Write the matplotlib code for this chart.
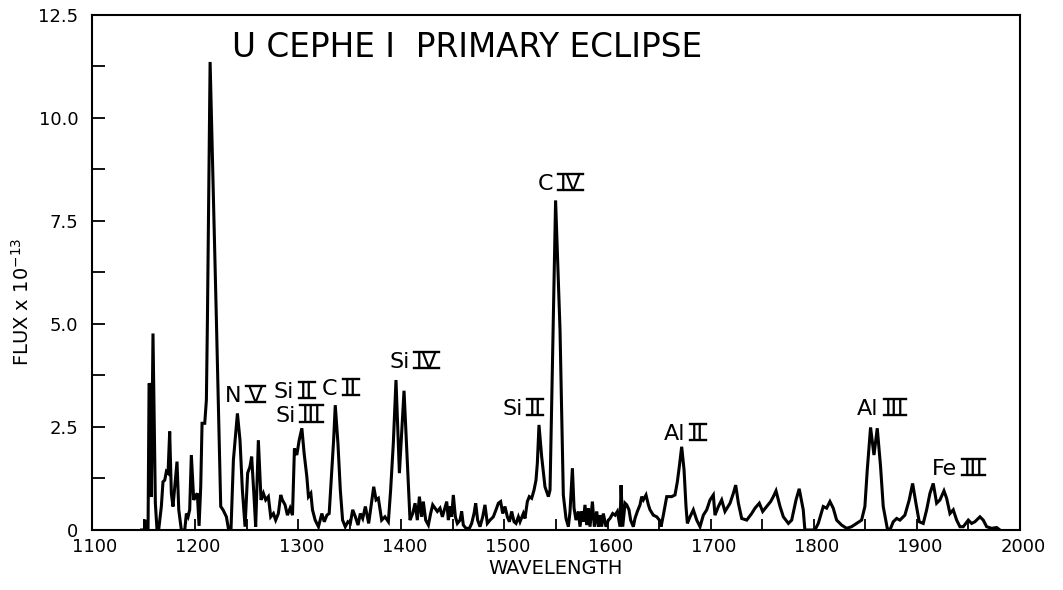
import matplotlib
matplotlib.use("Agg")
import matplotlib.pyplot as plt
from matplotlib.ticker import MultipleLocator
from matplotlib.transforms import ScaledTranslation, IdentityTransform
from matplotlib.lines import Line2D

# ---- data (wavelength in Angstrom, flux in 1e-13 units)
wavelength = [
    1148.0, 1150.8, 1151.1, 1151.4, 1154.3, 1155.3, 1156.6, 1157.5, 1159.1, 1161.4,
    1163.0, 1164.6, 1167.2, 1168.8, 1170.5, 1172.1, 1173.7, 1175.3, 1176.9, 1178.5,
    1180.2, 1182.4, 1184.1, 1186.6, 1189.9, 1191.5, 1193.1, 1194.7, 1196.3, 1198.6,
    1200.2, 1202.1, 1203.8, 1205.4, 1206.7, 1209.3, 1210.9, 1211.9, 1214.5, 1220.6,
    1224.8, 1227.0, 1230.3, 1232.5, 1234.8, 1237.1, 1241.0, 1243.5, 1245.8, 1248.4,
    1250.9, 1253.2, 1254.8, 1257.1, 1258.7, 1261.3, 1263.9, 1266.2, 1268.4, 1271.0,
    1273.3, 1275.9, 1278.1, 1280.7, 1283.0, 1284.6, 1287.2, 1289.5, 1292.1, 1294.4,
    1296.3, 1298.6, 1300.9, 1303.5, 1305.7, 1308.3, 1309.9, 1312.2, 1313.8, 1316.4,
    1319.6, 1322.9, 1325.2, 1327.8, 1330.0, 1332.0, 1334.3, 1335.9, 1338.5, 1340.8,
    1343.0, 1345.6, 1348.2, 1350.5, 1352.8, 1355.4, 1358.0, 1360.2, 1362.5, 1365.1,
    1368.3, 1370.6, 1373.2, 1375.5, 1377.7, 1380.9, 1384.1, 1387.4, 1389.6, 1392.2,
    1394.8, 1398.1, 1402.6, 1405.8, 1408.4, 1411.0, 1413.3, 1415.5, 1417.5, 1419.7,
    1421.3, 1423.6, 1426.2, 1428.4, 1430.4, 1432.6, 1434.9, 1437.5, 1439.8, 1441.7,
    1444.0, 1445.6, 1447.2, 1448.8, 1450.4, 1452.4, 1454.3, 1456.9, 1458.5, 1460.1,
    1462.7, 1466.0, 1468.2, 1470.5, 1472.1, 1474.0, 1476.3, 1478.9, 1481.1, 1483.4,
    1486.0, 1489.2, 1491.8, 1494.1, 1496.3, 1498.3, 1500.5, 1502.8, 1504.8, 1507.0,
    1509.3, 1511.2, 1513.5, 1515.1, 1518.3, 1519.9, 1522.2, 1524.1, 1526.4, 1528.7,
    1530.6, 1531.9, 1533.5, 1536.1, 1539.3, 1542.6, 1544.2, 1549.6, 1553.9, 1557.1,
    1559.7, 1562.0, 1563.6, 1565.9, 1567.5, 1569.4, 1571.7, 1573.3, 1574.9, 1576.5,
    1578.1, 1579.8, 1581.4, 1583.0, 1585.3, 1587.2, 1589.5, 1591.1, 1592.7, 1594.3,
    1595.9, 1598.5, 1600.8, 1602.4, 1605.0, 1607.3, 1609.5, 1612.1, 1613.1, 1614.7,
    1617.0, 1618.6, 1620.8, 1622.4, 1625.0, 1626.6, 1628.9, 1631.5, 1633.1, 1634.7,
    1637.3, 1639.6, 1641.2, 1644.4, 1647.7, 1650.3, 1651.9, 1654.1, 1657.4, 1662.2,
    1665.4, 1667.7, 1669.6, 1671.9, 1674.2, 1676.1, 1677.4, 1680.0, 1683.2, 1686.5,
    1689.7, 1692.9, 1696.2, 1699.4, 1702.6, 1704.2, 1707.5, 1710.7, 1713.9, 1718.8,
    1722.0, 1724.3, 1726.9, 1730.1, 1735.0, 1739.8, 1743.0, 1747.2, 1750.5, 1754.4,
    1758.2, 1760.8, 1763.4, 1767.3, 1770.5, 1775.4, 1778.6, 1782.8, 1785.9, 1789.8,
    1791.4, 1801.1, 1804.4, 1809.2, 1812.5, 1815.7, 1818.9, 1822.2, 1827.0, 1831.9,
    1836.7, 1841.6, 1846.4, 1849.6, 1851.9, 1855.1, 1858.4, 1861.6, 1864.8, 1867.4,
    1871.3, 1873.9, 1877.1, 1880.4, 1883.6, 1888.4, 1892.6, 1895.9, 1899.1, 1902.3,
    1906.2, 1909.5, 1912.7, 1915.9, 1919.2, 1922.4, 1926.3, 1928.9, 1932.1, 1935.3,
    1938.6, 1941.8, 1945.0, 1949.9, 1953.1, 1956.3, 1961.2, 1964.4, 1967.7, 1972.5,
    1977.4, 1980.6,
]
flux = [
    0.0, 0.0, 0.25, 0.0, 0.0, 3.56, 3.48, 0.8, 4.77, 0.65,
    0.0, 0.0, 0.57, 1.17, 1.21, 1.42, 1.38, 2.39, 0.89, 0.57,
    1.05, 1.66, 0.49, 0.0, 0.0, 0.40, 0.32, 0.49, 1.82, 0.73,
    0.81, 0.89, 0.10, 1.05, 2.59, 2.59, 3.16, 5.10, 11.36, 5.10,
    0.57, 0.49, 0.32, 0.0, 0.04, 1.70, 2.83, 2.18, 0.97, 0.08,
    1.38, 1.54, 1.78, 0.81, 0.08, 2.18, 0.73, 0.89, 0.73, 0.81,
    0.32, 0.40, 0.24, 0.40, 0.85, 0.73, 0.61, 0.36, 0.53, 0.36,
    1.98, 1.82, 2.18, 2.47, 1.86, 1.30, 0.81, 0.89, 0.49, 0.24,
    0.08, 0.40, 0.20, 0.36, 0.40, 1.21, 2.18, 3.03, 2.10, 0.97,
    0.24, 0.08, 0.20, 0.16, 0.49, 0.32, 0.12, 0.40, 0.28, 0.57,
    0.16, 0.57, 1.05, 0.73, 0.77, 0.24, 0.32, 0.20, 0.97, 2.10,
    3.64, 1.38, 3.38, 1.62, 0.24, 0.40, 0.65, 0.24, 0.81, 0.32,
    0.69, 0.24, 0.12, 0.40, 0.61, 0.53, 0.45, 0.53, 0.32, 0.49,
    0.69, 0.24, 0.57, 0.32, 0.85, 0.32, 0.16, 0.24, 0.45, 0.12,
    0.04, 0.04, 0.16, 0.40, 0.65, 0.24, 0.08, 0.32, 0.61, 0.16,
    0.24, 0.32, 0.49, 0.65, 0.69, 0.40, 0.57, 0.32, 0.20, 0.45,
    0.20, 0.16, 0.32, 0.20, 0.40, 0.28, 0.69, 0.81, 0.77, 0.97,
    1.21, 1.62, 2.55, 1.78, 1.05, 0.81, 0.97, 8.00, 4.85, 0.85,
    0.28, 0.08, 0.45, 1.50, 0.53, 0.24, 0.45, 0.08, 0.45, 0.20,
    0.61, 0.12, 0.53, 0.08, 0.69, 0.08, 0.45, 0.08, 0.36, 0.08,
    0.40, 0.08, 0.24, 0.28, 0.40, 0.36, 0.45, 0.08, 1.09, 0.08,
    0.65, 0.61, 0.49, 0.24, 0.08, 0.28, 0.45, 0.61, 0.81, 0.73,
    0.85, 0.61, 0.49, 0.36, 0.32, 0.24, 0.08, 0.36, 0.81, 0.81,
    0.85, 1.17, 1.54, 2.02, 1.46, 0.57, 0.16, 0.32, 0.49, 0.24,
    0.08, 0.36, 0.49, 0.73, 0.85, 0.36, 0.57, 0.73, 0.45, 0.65,
    0.89, 1.09, 0.65, 0.28, 0.24, 0.40, 0.53, 0.65, 0.45, 0.57,
    0.69, 0.81, 0.95, 0.57, 0.32, 0.16, 0.24, 0.73, 1.00, 0.49,
    0.0, 0.0, 0.16, 0.57, 0.53, 0.69, 0.53, 0.24, 0.12, 0.04,
    0.08, 0.16, 0.24, 0.57, 1.46, 2.49, 1.82, 2.47, 1.54, 0.57,
    0.04, 0.0, 0.20, 0.28, 0.24, 0.36, 0.73, 1.13, 0.65, 0.20,
    0.16, 0.49, 0.89, 1.13, 0.65, 0.73, 0.95, 0.77, 0.40, 0.49,
    0.24, 0.08, 0.08, 0.24, 0.16, 0.20, 0.32, 0.24, 0.08, 0.04,
    0.06, 0.0,
]

# ion labels: element symbol + ionisation stage (roman numeral)
label_elements = ["N", "Si", "Si", "C", "Si", "C", "Si", "Al", "Al", "Fe"]
label_stages = ["V", "II", "III", "II", "IV", "IV", "II", "II", "III", "III"]
label_x = [1247.4, 1295.2, 1300.0, 1340.2, 1411.6, 1553.4, 1517.0, 1674.0, 1865.2, 1939.8]
label_y = [3.11, 3.20, 2.63, 3.27, 3.92, 8.25, 2.79, 2.18, 2.78, 1.33]

x_ticks = [1100, 1200, 1300, 1400, 1500, 1600, 1700, 1800, 1900, 2000]
y_ticks = [0, 2.5, 5.0, 7.5, 10.0, 12.5]
y_tick_labels = ["0", "2.5", "5.0", "7.5", "10.0", "12.5"]

title_text = "U CEPHE I  PRIMARY ECLIPSE"

DPI = 100
fig = plt.figure(figsize=(10.63, 5.90), dpi=DPI)
ax = fig.add_axes([0.0866, 0.1017, 0.8729, 0.8729])

ax.plot(wavelength, flux, color="black", lw=2.2, solid_joinstyle="miter")

ax.set_xlim(1100, 2000)
ax.set_ylim(0, 12.5)

for s in ax.spines.values():
    s.set_linewidth(1.5)

ax.set_xticks(x_ticks)
ax.set_xticklabels([str(t) for t in x_ticks])
ax.xaxis.set_minor_locator(MultipleLocator(50))
ax.set_yticks(y_ticks)
ax.set_yticklabels(y_tick_labels)
ax.yaxis.set_minor_locator(MultipleLocator(1.25))

ax.tick_params(axis="x", which="both", direction="in", length=8, width=1.3,
               labelsize=13, pad=6)
ax.tick_params(axis="y", which="both", direction="in", length=9.5, width=1.3,
               labelsize=13, pad=10)
for lbl in ax.get_xticklabels():
    lbl.set_transform(lbl.get_transform() + ScaledTranslation(3 / DPI, 0, fig.dpi_scale_trans))

ax.text(1236, 11.72, title_text, fontsize=23.5, ha="left", va="center")

fig.text(0.523, 0.02, "WAVELENGTH", fontsize=14, ha="center", va="bottom")
fig.text(0.021, 0.488, r"FLUX x 10$^{-13}$", fontsize=14, rotation=90,
         ha="center", va="center")

# ion labels with barred roman numerals
FS = 16
fig.canvas.draw()
renderer = fig.canvas.get_renderer()
cap_px = 0.729 * FS * DPI / 72.0
gap_px = 6.5
for el, st, x, y in zip(label_elements, label_stages, label_x, label_y):
    te = ax.text(x, y, el, fontsize=FS, ha="left", va="baseline")
    ts = ax.text(x, y, st, fontsize=FS, ha="left", va="baseline")
    we = te.get_window_extent(renderer).width
    ws = ts.get_window_extent(renderer).width
    total = we + gap_px + ws
    te.set_transform(ax.transData + ScaledTranslation(-total / 2 / DPI, 0, fig.dpi_scale_trans))
    ts.set_transform(ax.transData + ScaledTranslation((-total / 2 + we + gap_px) / DPI, 0,
                                                      fig.dpi_scale_trans))
    bb = ts.get_window_extent(renderer)
    yb = ax.transData.transform((x, y))[1]
    for yy in (yb, yb + cap_px):
        fig.add_artist(Line2D([bb.x0 - 1.5, bb.x1 + 1.5], [yy, yy], color="black",
                              lw=1.7, transform=IdentityTransform()))

fig.savefig("out.png", dpi=DPI)
